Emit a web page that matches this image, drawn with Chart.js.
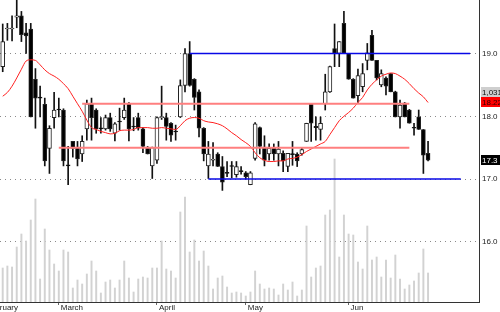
<!DOCTYPE html>
<html><head><meta charset="utf-8">
<script src="https://cdn.jsdelivr.net/npm/chart.js@4/dist/chart.umd.min.js"></script>
<style>html,body{margin:0;padding:0;background:#fff;overflow:hidden}</style>
</head><body>
<canvas id="c" width="500" height="312"></canvas>
<script>
// ---- data ----
const opens = [18.79,19.39,19.39,19.58,19.60,19.33,19.39,18.59,18.30,18.19,
17.49,17.98,18.11,18.10,17.22,17.60,17.51,17.40,17.80,18.20,
18.10,17.81,17.80,17.98,17.73,17.92,17.98,18.20,17.84,17.98,
17.80,17.50,17.21,17.30,17.98,17.98,17.89,17.76,17.99,18.49,
19.00,18.59,18.39,17.81,17.21,17.30,17.40,17.20,17.10,17.21,
17.07,17.13,17.10,16.91,17.33,17.82,17.51,17.40,17.49,17.40,
17.41,17.20,17.40,17.40,17.40,17.60,18.20,17.84,17.79,18.20,
18.39,19.08,19.00,19.48,19.00,18.59,18.33,18.47,18.89,19.29,
18.89,18.50,18.61,18.68,18.39,17.99,18.21,18.10,17.82,17.99,
17.79,17.41];
const highs = [19.47,19.48,19.60,19.90,19.67,19.48,19.48,18.76,18.48,18.29,
17.85,18.38,18.29,18.12,17.52,17.60,17.60,17.69,18.26,18.29,
18.12,17.98,18.02,18.05,17.90,18.13,18.29,18.22,17.98,18.05,
17.82,17.52,17.51,17.99,18.48,18.05,17.90,17.86,18.58,19.08,
19.19,18.60,18.42,17.82,17.60,17.58,17.42,17.36,17.28,17.28,
17.28,17.20,17.12,17.12,17.90,17.83,17.69,17.56,17.56,17.60,
17.45,17.41,17.60,17.42,17.50,17.89,18.20,17.99,17.99,18.67,
18.80,19.47,19.19,19.67,19.00,18.60,18.75,18.84,19.16,19.37,
18.89,18.74,18.63,18.68,18.40,18.26,18.22,18.11,17.89,18.10,
17.79,17.60];
const lows = [18.71,19.21,19.20,19.41,19.19,19.00,17.99,17.81,17.99,17.21,
17.09,17.81,17.99,17.21,16.91,17.35,17.21,17.28,17.62,17.62,
17.73,17.73,17.78,17.76,17.61,17.78,17.95,17.61,17.77,17.78,
17.42,17.40,17.01,17.25,17.95,17.62,17.60,17.62,17.98,18.39,
18.48,18.10,17.67,17.29,17.01,17.21,17.20,16.82,17.04,17.02,
17.03,17.08,17.00,16.91,17.30,17.40,17.21,17.30,17.30,17.21,
17.12,17.12,17.22,17.20,17.38,17.60,17.60,17.62,17.62,18.10,
18.38,18.79,18.79,19.00,18.59,18.29,18.22,18.39,18.74,18.89,
18.58,18.47,18.34,18.39,17.99,17.81,17.99,17.89,17.70,17.79,
17.09,17.29];
const closes = [19.19,19.40,19.40,19.60,19.30,19.28,17.99,18.29,18.29,17.29,
17.81,18.10,18.10,17.29,17.21,17.49,17.32,17.60,18.20,17.98,
17.80,17.80,17.98,17.80,17.88,17.91,18.10,17.80,17.83,17.81,
17.52,17.40,17.50,17.98,17.99,17.84,17.70,17.75,18.49,19.00,
18.49,18.30,17.81,17.40,17.40,17.31,17.20,16.95,17.09,17.20,
17.20,17.12,17.04,17.10,17.88,17.52,17.30,17.49,17.40,17.48,
17.29,17.41,17.39,17.29,17.47,17.89,17.89,17.82,17.89,18.39,
18.79,19.00,19.19,19.00,18.59,18.29,18.65,18.68,19.01,18.89,
18.61,18.68,18.48,18.39,17.99,18.18,17.99,17.89,17.81,17.79,
17.38,17.30];
const volumes = [34,36,35,55,68,61,82,103,23,73,
52,38,31,52,50,14,22,18,28,41,
31,9,20,22,14,22,41,24,10,23,
25,24,34,34,61,33,31,24,90,105,
50,62,41,51,36,13,24,26,15,9,
10,9,6,10,31,18,13,14,13,7,
18,12,20,6,12,76,25,34,36,87,
92,143,45,87,68,67,40,33,76,42,
45,25,42,24,47,23,13,17,21,29,
53,29];
const maValues = [18.32,18.38,18.48,18.61,18.75,18.88,18.90,18.89,18.82,18.74,
18.68,18.64,18.59,18.52,18.44,18.32,18.20,18.08,17.94,17.82,
17.79,17.76,17.74,17.72,17.73,17.77,17.78,17.78,17.79,17.82,
17.82,17.82,17.81,17.81,17.82,17.81,17.80,17.79,17.85,17.93,
17.97,17.98,17.97,17.93,17.91,17.90,17.88,17.85,17.80,17.74,
17.69,17.63,17.58,17.52,17.42,17.34,17.30,17.28,17.28,17.29,
17.29,17.32,17.33,17.35,17.39,17.44,17.48,17.52,17.56,17.60,
17.71,17.82,17.93,18.00,18.06,18.13,18.22,18.30,18.42,18.51,
18.58,18.64,18.67,18.69,18.68,18.64,18.59,18.52,18.44,18.37,
18.31,18.22];
const monthTicks = [-4, 12, 33, 52, 74];
const monthNames = ['February', 'March', 'April', 'May', 'Jun'];
const priceTicks = [16, 17, 18, 19];
const levelValues = [19.0, 17.0, 18.2, 17.5];
const levelStart = [40, 44, 17, 12];
const levelEnd = [100, 98, 87, 87];
const badgeVolumeText = '1,031';
const badgeMA = 18.22;
const badgeClose = 17.3;

// ---- styles ----
const levelColors = ['#0808e6', '#0808e6', '#ff7f7f', '#ff7f7f'];
const levelWidths = [1.5, 1.5, 2, 2];
const FONT = 'Liberation Sans';

const idx = opens.map((_, i) => i);
const datasets = [];
datasets.push({
  type: 'bar', label: 'vol', yAxisID: 'yVol', order: 9, grouped: false,
  data: idx.map(i => ({x: i, y: volumes[i]})),
  backgroundColor: '#d2d2d2', barThickness: 1.3
});
datasets.push({
  type: 'bar', label: 'wick', yAxisID: 'y', order: 8, grouped: false,
  data: idx.map(i => ({x: i, y: [lows[i], highs[i]]})),
  backgroundColor: '#111', barThickness: 1
});
datasets.push({
  type: 'bar', label: 'body', yAxisID: 'y', order: 7, grouped: false,
  data: idx.map(i => ({x: i, y: [opens[i], closes[i]]})),
  backgroundColor: idx.map(i => closes[i] >= opens[i] ? '#ffffff' : '#000000'),
  borderColor: '#222', borderWidth: 1, borderSkipped: false,
  barThickness: 4, minBarLength: 1
});
datasets.push({
  type: 'line', label: 'ma', yAxisID: 'y', order: 3,
  data: idx.map(i => ({x: i, y: maValues[i]})),
  borderColor: '#ff2020', borderWidth: 1, pointRadius: 0,
  cubicInterpolationMode: 'monotone', fill: false
});
levelValues.forEach((v, k) => {
  datasets.push({
    type: 'line', label: 'lvl' + k, yAxisID: 'y', order: 2,
    data: [{x: levelStart[k], y: v}, {x: levelEnd[k], y: v}],
    borderColor: levelColors[k], borderWidth: levelWidths[k], pointRadius: 0, fill: false
  });
});

const badgePlugin = {
  id: 'badges',
  afterDraw(chart) {
    const ctx = chart.ctx, ys = chart.scales.y;
    const x0 = chart.chartArea.right + 2;
    const draw = (yc, bg, fg, txt) => {
      ctx.save();
      ctx.fillStyle = bg;
      ctx.fillRect(x0, Math.round(yc) - 5, 500 - x0, 10);
      ctx.fillStyle = fg;
      ctx.font = '8px "' + FONT + '"';
      ctx.textBaseline = 'middle';
      ctx.textAlign = 'left';
      ctx.fillText(txt, x0 + 1, Math.round(yc) + 0.5);
      ctx.restore();
    };
    const yMa = ys.getPixelForValue(badgeMA);
    draw(yMa - 10, '#cfcfcf', '#111', badgeVolumeText);
    draw(yMa, '#ff0000', '#300', badgeMA.toFixed(2));
    draw(ys.getPixelForValue(badgeClose), '#000000', '#ffffff', badgeClose.toFixed(1));
  }
};

const noPad = s => { s.paddingLeft = 0; s.paddingRight = 0; s.paddingTop = 0; s.paddingBottom = 0; };

new Chart(document.getElementById('c'), {
  data: { datasets },
  options: {
    responsive: false, animation: false, devicePixelRatio: 1,
    layout: { padding: 0 },
    plugins: { legend: { display: false }, tooltip: { enabled: false } },
    scales: {
      x: {
        type: 'linear', position: 'bottom', min: -0.58, max: 101.9, bounds: 'data', offset: false,
        afterFit: s => { s.height = 10; noPad(s); },
        afterBuildTicks: s => { s.ticks = monthTicks.map(v => ({value: v})); },
        grid: { offset: false, drawOnChartArea: false, drawTicks: true, tickLength: 3, tickColor: '#666' },
        border: { display: true, color: '#333', width: 1 },
        ticks: { autoSkip: false, maxRotation: 0, minRotation: 0, align: 'start', padding: -2, labelOffset: 2,
          font: { family: FONT, size: 8 }, color: '#222', callback: (v, i) => monthNames[i] }
      },
      y: {
        type: 'linear', position: 'right', min: 15.043, max: 19.852, bounds: 'data',
        afterFit: s => { s.width = 21; noPad(s); },
        afterBuildTicks: s => { s.ticks = priceTicks.map(v => ({value: v})); },
        grid: { color: '#8a8a8a', lineWidth: 1, drawTicks: false },
        border: { display: true, color: '#333', width: 1, dash: [1, 4] },
        ticks: { padding: 3, font: { family: FONT, size: 8 }, color: '#222', callback: v => Number(v).toFixed(1) }
      },
      yVol: { type: 'linear', display: false, min: 0, max: 302 }
    }
  },
  plugins: [badgePlugin]
});
</script>
</body></html>
